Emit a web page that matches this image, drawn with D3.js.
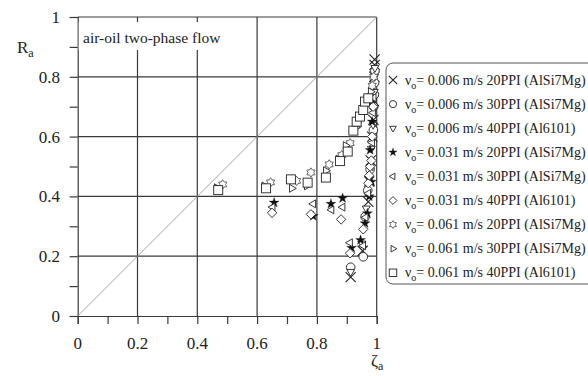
<!DOCTYPE html>
<html>
<head>
<meta charset="utf-8">
<script src="https://cdn.jsdelivr.net/npm/d3@7"></script>
<style>
  body { margin: 0; background: #fff; }
  svg text { font-family: "Liberation Serif", serif; fill: #222; }
</style>
</head>
<body>
<script>
// data: [zeta_a, R_a]
var xTicks = [0, 0.2, 0.4, 0.6, 0.8, 1];
var yTicks = [0, 0.2, 0.4, 0.6, 0.8, 1];
var legendLabels = [
  ["0.006 m/s 20PPI (AlSi7Mg)", "x"],
  ["0.006 m/s 30PPI (AlSi7Mg)", "circle"],
  ["0.006 m/s 40PPI (Al6101)", "tridown"],
  ["0.031 m/s 20PPI (AlSi7Mg)", "star"],
  ["0.031 m/s 30PPI (AlSi7Mg)", "trileft"],
  ["0.031 m/s 40PPI (Al6101)", "diamond"],
  ["0.061 m/s 20PPI (AlSi7Mg)", "hex"],
  ["0.061 m/s 30PPI (AlSi7Mg)", "triright"],
  ["0.061 m/s 40PPI (Al6101)", "square"]
];
var s006_20 = [[0.913,0.13],[0.953,0.218],[0.972,0.382],[0.975,0.45],[0.98,0.52],[0.985,0.6],[0.989,0.656],[0.99,0.72],[0.99,0.76],[0.992,0.8],[0.993,0.84],[0.993,0.858]];
var s006_30 = [[0.913,0.163],[0.955,0.198],[0.961,0.332],[0.97,0.42],[0.978,0.49],[0.989,0.622],[0.99,0.7],[0.992,0.74],[0.993,0.78],[0.994,0.82]];
var s006_40 = [[0.913,0.148],[0.95,0.243],[0.965,0.36],[0.975,0.46],[0.982,0.56],[0.988,0.64],[0.99,0.69],[0.992,0.75],[0.993,0.8],[0.994,0.83]];
var s031_20 = [[0.657,0.379],[0.788,0.334],[0.847,0.375],[0.886,0.394],[0.916,0.228],[0.946,0.254],[0.961,0.31],[0.969,0.343],[0.975,0.4],[0.983,0.449],[0.978,0.555],[0.985,0.65],[0.983,0.722]];
var s031_30 = [[0.652,0.364],[0.788,0.375],[0.849,0.355],[0.886,0.364],[0.911,0.245],[0.955,0.235],[0.963,0.33],[0.972,0.41],[0.98,0.5],[0.985,0.58],[0.988,0.68],[0.99,0.73]];
var s031_40 = [[0.65,0.345],[0.78,0.34],[0.881,0.323],[0.911,0.21],[0.955,0.29],[0.972,0.444],[0.975,0.47],[0.978,0.5],[0.982,0.52],[0.985,0.6],[0.988,0.7]];
var s061_20 = [[0.485,0.44],[0.645,0.447],[0.732,0.452],[0.78,0.48],[0.841,0.507],[0.883,0.538],[0.911,0.578],[0.935,0.64],[0.955,0.69],[0.97,0.73],[0.985,0.77],[0.99,0.8]];
var s061_30 = [[0.465,0.429],[0.624,0.435],[0.716,0.427],[0.766,0.435],[0.83,0.486],[0.872,0.525],[0.896,0.57],[0.93,0.63],[0.95,0.68],[0.965,0.71],[0.98,0.75]];
var s061_40 = [[0.47,0.421],[0.63,0.427],[0.713,0.457],[0.769,0.446],[0.83,0.463],[0.877,0.518],[0.903,0.55],[0.922,0.62],[0.933,0.65],[0.944,0.667],[0.955,0.689],[0.961,0.717],[0.972,0.728]];
var allSeries = [s006_20, s006_30, s006_40, s031_20, s031_30, s031_40, s061_20, s061_30, s061_40];

var width = 588, height = 376;
var svg = d3.select("body").append("svg").attr("width", width).attr("height", height)
  .attr("font-family", "Liberation Serif, serif");

var x = d3.scaleLinear().domain([0, 1]).range([77.7, 376.7]);
var y = d3.scaleLinear().domain([0, 1]).range([316, 17]);
var gridColor = "#3a3a3a";

// grid
svg.append("g").selectAll("line.v").data(xTicks.slice(1)).enter().append("line")
  .attr("x1", d => x(d)).attr("x2", d => x(d)).attr("y1", y(0)).attr("y2", y(1))
  .attr("stroke", gridColor).attr("stroke-width", 1.2);
svg.append("g").selectAll("line.h").data(yTicks.slice(1)).enter().append("line")
  .attr("x1", x(0)).attr("x2", x(1)).attr("y1", d => y(d)).attr("y2", d => y(d))
  .attr("stroke", gridColor).attr("stroke-width", 1.2);

// axes with major + minor ticks outside
var axX = d3.axisBottom(x).tickValues(d3.range(0, 1.01, 0.1)).tickSize(8).tickFormat("");
var axY = d3.axisLeft(y).tickValues(d3.range(0, 1.01, 0.1)).tickSize(8).tickFormat("");
[svg.append("g").attr("transform", "translate(0," + y(0) + ")").call(axX),
 svg.append("g").attr("transform", "translate(" + x(0) + ",0)").call(axY)].forEach(g => {
  g.select(".domain").attr("stroke", gridColor).attr("stroke-width", 1.2);
  g.selectAll(".tick line").attr("stroke", gridColor).attr("stroke-width", 1.2);
});

// diagonal
svg.append("line").attr("x1", x(0)).attr("y1", y(0)).attr("x2", x(1)).attr("y2", y(1))
  .attr("stroke", "#9a9a9a").attr("stroke-width", 0.9);

// title box
svg.append("rect").attr("x", x(0) + 1).attr("y", 22).attr("width", 172).attr("height", 28).attr("fill", "#fff");
svg.append("text").attr("x", 83).attr("y", 43).style("font-size", "15.5px").text("air-oil two-phase flow");

// tick labels
svg.append("g").selectAll("text").data(xTicks).enter().append("text")
  .attr("x", d => x(d)).attr("y", 349).attr("text-anchor", "middle").style("font-size", "17px")
  .text(d => d3.format("")(d));
svg.append("g").selectAll("text").data(yTicks).enter().append("text")
  .attr("x", 60).attr("y", d => y(d) + 6).attr("text-anchor", "end").style("font-size", "17px")
  .text(d => d3.format("")(d));

// axis titles
var ry = svg.append("text").attr("x", 17).attr("y", 53).style("font-size", "17px");
ry.append("tspan").text("R");
ry.append("tspan").attr("dy", 4).style("font-size", "12px").text("a");
var zx = svg.append("text").attr("x", 371).attr("y", 366).style("font-size", "17px");
zx.append("tspan").text("ζ");
zx.append("tspan").attr("dy", 4).style("font-size", "12px").text("a");

// marker shapes
function hexStar(r) {
  var p = [];
  for (var i = 0; i < 12; i++) {
    var a = Math.PI / 6 * i - Math.PI / 2, rr = i % 2 ? r * 0.62 : r;
    p.push([rr * Math.cos(a), rr * Math.sin(a)]);
  }
  return "M" + p.join("L") + "Z";
}
function marker(sel, kind, s) {
  var st = "#222", sw = 0.9;
  if (kind === "x") sel.append("path").attr("d", d3.symbol(d3.symbolTimes, s * s * 0.85)()).attr("fill", "none").attr("stroke", st).attr("stroke-width", sw + 0.2);
  else if (kind === "circle") sel.append("circle").attr("r", s * 0.48).attr("fill", "#fff").attr("stroke", st).attr("stroke-width", sw);
  else if (kind === "square") sel.append("rect").attr("x", -s * 0.5).attr("y", -s * 0.5).attr("width", s).attr("height", s).attr("fill", "#fff").attr("stroke", st).attr("stroke-width", sw);
  else if (kind === "diamond") sel.append("path").attr("d", d3.symbol(d3.symbolDiamond2, s * s * 0.7)()).attr("fill", "#fff").attr("stroke", st).attr("stroke-width", sw);
  else if (kind === "star") sel.append("path").attr("d", d3.symbol(d3.symbolStar, s * s * 0.38)()).attr("fill", "#111").attr("stroke", "#111").attr("stroke-width", 0.3);
  else if (kind === "hex") sel.append("path").attr("d", hexStar(s * 0.52)).attr("fill", "#fff").attr("stroke", "#555").attr("stroke-width", sw);
  else {
    var rot = kind === "tridown" ? 180 : kind === "trileft" ? -90 : 90;
    sel.append("path").attr("d", d3.symbol(d3.symbolTriangle2, s * s * 0.55)()).attr("transform", "rotate(" + rot + ")")
      .attr("fill", "#fff").attr("stroke", st).attr("stroke-width", sw);
  }
}

// points
allSeries.forEach(function (data, i) {
  var kind = legendLabels[i][1];
  svg.append("g").selectAll("g").data(data).enter().append("g")
    .attr("transform", d => "translate(" + x(d[0]) + "," + y(d[1]) + ")")
    .each(function () { marker(d3.select(this), kind, 9); });
});

// legend
var lg = svg.append("g");
lg.append("rect").attr("x", 386).attr("y", 63).attr("width", 230).attr("height", 221).attr("rx", 7)
  .attr("fill", "#fff").attr("stroke", "#555").attr("stroke-width", 1);
legendLabels.forEach(function (d, i) {
  var yy = 80 + i * 24.1;
  var m = lg.append("g").attr("transform", "translate(393," + yy + ")");
  marker(m, d[1], 7.5);
  var t = lg.append("text").attr("x", 405).attr("y", yy + 4.5).style("font-size", "14px");
  t.append("tspan").text("ν");
  t.append("tspan").attr("dy", 4).style("font-size", "10px").text("o");
  t.append("tspan").attr("dy", -4).text("= 0." + d[0].slice(2));
});
</script>
</body>
</html>
